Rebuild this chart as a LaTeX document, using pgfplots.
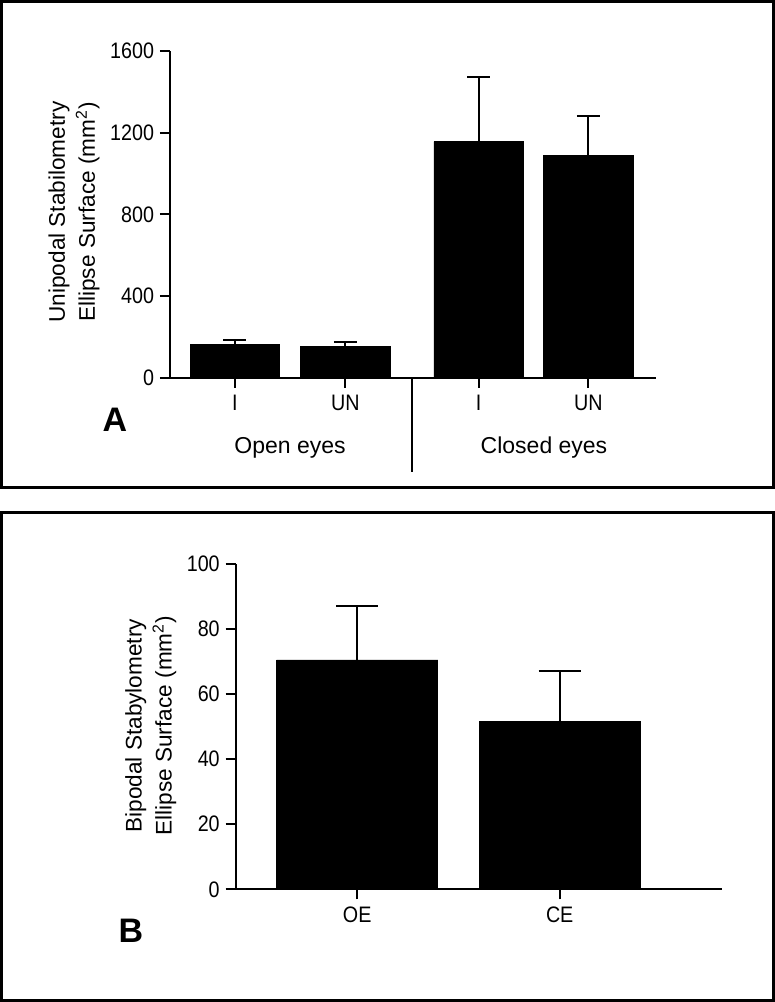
\documentclass[border=0pt]{standalone}
\usepackage{fontspec}
\setmainfont{Liberation Sans}
\newfontfamily\tickfont[FakeStretch=0.88]{Liberation Sans}
\usepackage{pgfplots}
\pgfplotsset{compat=1.18}

\newcommand\tickfmt{\fontsize{11.2}{13}\selectfont\tickfont}
\pgfplotsset{
  panel/.style={
    scale only axis, width=243pt,
    ymin=0,
    axis x line=bottom, axis y line=left,
    axis line style={line width=1pt, -},
    tick align=outside, major tick length=5pt,
    tick style={line width=1pt, black},
    /pgf/number format/assume math mode=true,
    /pgf/number format/1000 sep={},
    xticklabel style={font=\tickfmt},
    yticklabel style={font=\tickfmt, inner sep=2.8pt},
    clip=false,
  },
  barplot/.style={
    ybar, bar shift=0pt, fill=black, draw=black, line width=0.4pt,
    error bars/y dir=plus, error bars/y explicit,
    error bars/error bar style={line width=1pt, black},
  },
}

\begin{document}
\begin{tikzpicture}
\path[use as bounding box] (0pt,0pt) rectangle (387.5pt,501pt);

% panel frames
\draw[line width=1.5pt] (0.9pt,257pt) rectangle (386.6pt,500.1pt);
\draw[line width=1.5pt] (0.9pt,0.9pt) rectangle (386.6pt,244.5pt);

% ---- A: unipodal
\begin{axis}[panel,
    at={(85pt,312.15pt)}, anchor=south west,
    height=163.35pt,
    xmin=-0.588, xmax=3.81,
    ymax=1600, ytick={0,400,800,1200,1600},
    xtick={0,1,2.204,3.199}, xticklabels={I,UN,I,UN},
]
\addplot[barplot, bar width=44.6pt,
    error bars/error mark options={rotate=90, mark size=5.75pt, line width=1pt, black}]
  coordinates {(0,165) +- (0,20) (1,152) +- (0,23)
               (2.204,1156) +- (0,315) (3.199,1087) +- (0,193)};
\draw[line width=1pt] (axis cs:1.602,0) -- ++(0pt,-47pt);
\end{axis}

\node[rotate=90, align=center, font=\fontsize{11.3}{15}\selectfont]
  at (37pt,395pt) {Unipodal Stabilometry\\Ellipse Surface (mm\textsuperscript{2})};
\node[anchor=base, font=\fontsize{11.5}{14}\selectfont] at (145pt,274.35pt) {Open eyes};
\node[anchor=base, font=\fontsize{11.5}{14}\selectfont] at (272pt,274.35pt) {Closed eyes};
\node[anchor=base, font=\fontsize{17}{20}\selectfont\bfseries] at (57.5pt,285pt) {A};

% ---- B: bipodal
\begin{axis}[panel,
    at={(117.85pt,56.35pt)}, anchor=south west,
    height=162.65pt,
    xmin=-0.6, xmax=1.8,
    ymax=100, ytick={0,20,40,60,80,100},
    xtick={0,1}, xticklabels={OE,CE},
]
\addplot[barplot, bar width=80.6pt,
    error bars/error mark options={rotate=90, mark size=10.5pt, line width=1pt, black}]
  coordinates {(0,70.5) +- (0,16.7) (1,51.7) +- (0,15.4)};
\end{axis}

\node[rotate=90, align=center, font=\fontsize{11.3}{15}\selectfont]
  at (75.4pt,138.15pt) {Bipodal Stabylometry\\Ellipse Surface (mm\textsuperscript{2})};
\node[anchor=base, font=\fontsize{17}{20}\selectfont\bfseries] at (65.5pt,29.5pt) {B};
\end{tikzpicture}
\end{document}
